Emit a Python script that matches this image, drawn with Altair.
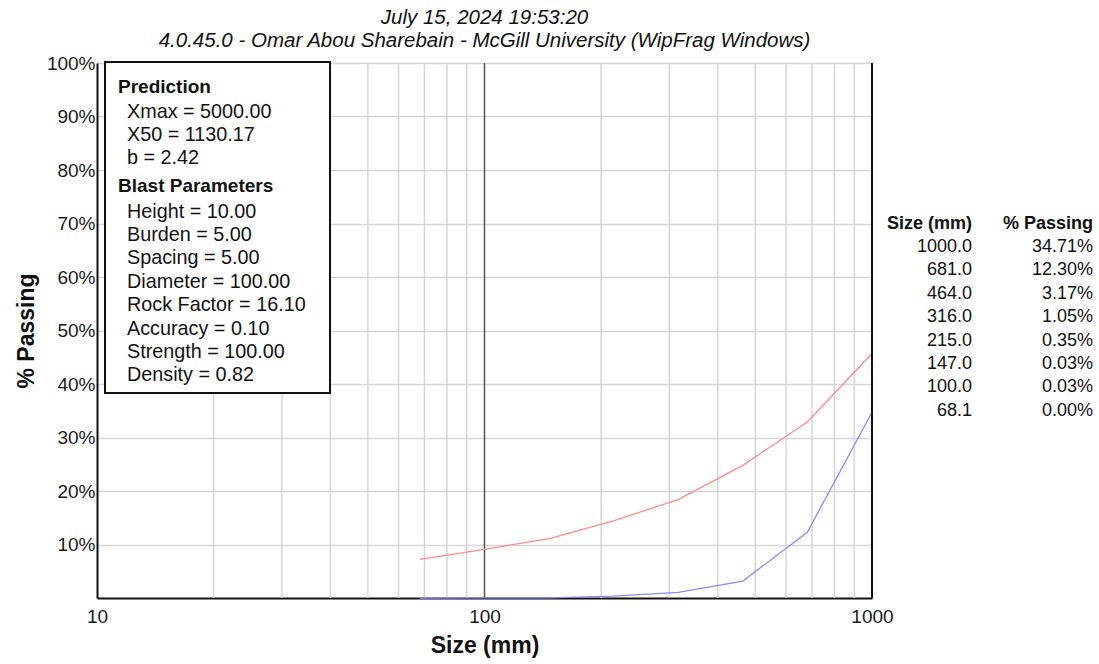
import altair as alt
import pandas as pd

# Sieve sizes and measured % passing (table at right, blue curve)
sizes = [1000.0, 681.0, 464.0, 316.0, 215.0, 147.0, 100.0, 68.1]
passing = [34.71, 12.30, 3.17, 1.05, 0.35, 0.03, 0.03, 0.00]
# Predicted % passing at the same sizes (red curve)
predicted = [45.7, 32.9, 24.8, 18.4, 14.4, 11.1, 9.1, 7.2]

title_lines = [
    "July 15, 2024 19:53:20",
    "4.0.45.0  -  Omar Abou Sharebain - McGill University (WipFrag Windows)",
]
prediction_lines = ["Xmax = 5000.00", "X50 = 1130.17", "b = 2.42"]
blast_lines = [
    "Height = 10.00",
    "Burden = 5.00",
    "Spacing = 5.00",
    "Diameter = 100.00",
    "Rock Factor = 16.10",
    "Accuracy = 0.10",
    "Strength = 100.00",
    "Density = 0.82",
]
x_ticks = [10, 100, 1000]
y_ticks = [10, 20, 30, 40, 50, 60, 70, 80, 90, 100]
minor_grid = [20, 30, 40, 50, 60, 70, 80, 90, 200, 300, 400, 500, 600, 700, 800, 900]

FONT = "Liberation Sans"
W, H = 775, 535
PAD = {"left": 97, "top": 63, "right": 227, "bottom": 66}

x_scale = alt.Scale(type="log", domain=[10, 1000], nice=False)
y_scale = alt.Scale(domain=[0, 100], nice=False)

curves = pd.DataFrame(
    {
        "size": sizes + sizes,
        "pct": predicted + passing,
        "series": ["Predicted"] * len(sizes) + ["Measured"] * len(sizes),
    }
)

one = pd.DataFrame({"n": [0]})

# light vertical grid at the minor log positions
grid = (
    alt.Chart(pd.DataFrame({"g": minor_grid}))
    .mark_rule(color="#d6d6d6", strokeWidth=1.5)
    .encode(x=alt.X("g:Q", scale=x_scale), y=alt.value(0), y2=alt.value(H))
)
decade = (
    alt.Chart(pd.DataFrame({"g": [100]}))
    .mark_rule(color="#555555", strokeWidth=1.5)
    .encode(x=alt.X("g:Q", scale=x_scale), y=alt.value(0), y2=alt.value(H))
)
right_edge = (
    alt.Chart(pd.DataFrame({"g": [1000]}))
    .mark_rule(color="#111111", strokeWidth=2)
    .encode(x=alt.X("g:Q", scale=x_scale), y=alt.value(0), y2=alt.value(H))
)

lines = (
    alt.Chart(curves)
    .mark_line(strokeWidth=1.3, clip=False)
    .encode(
        x=alt.X(
            "size:Q",
            scale=x_scale,
            axis=alt.Axis(
                values=x_ticks,
                labelExpr="format(datum.value, 'd')",
                grid=False,
                ticks=False,
                domainColor="#111111",
                domainWidth=2,
                labelFont=FONT,
                labelFontSize=19,
                labelColor="#1a1a1a",
                labelPadding=9,
                labelFlush=False,
                labelOverlap=False,
                title="Size (mm)",
                titleFont=FONT,
                titleFontSize=23,
                titleFontWeight="bold",
                titleColor="#111111",
                titlePadding=8,
                zindex=0,
            ),
        ),
        y=alt.Y(
            "pct:Q",
            scale=y_scale,
            axis=alt.Axis(
                values=y_ticks,
                labelExpr="datum.value + '%'",
                grid=True,
                gridColor="#d6d6d6",
                gridWidth=1.5,
                ticks=False,
                domainColor="#111111",
                domainWidth=2,
                labelFont=FONT,
                labelFontSize=19,
                labelColor="#1a1a1a",
                labelPadding=2,
                labelOverlap=False,
                title="% Passing",
                titleFont=FONT,
                titleFontSize=23,
                titleFontWeight="bold",
                titleColor="#111111",
                titlePadding=8,
            ),
        ),
        color=alt.Color(
            "series:N",
            scale=alt.Scale(domain=["Predicted", "Measured"], range=["#ff8a8a", "#8a8aff"]),
            legend=None,
        ),
        detail="series:N",
    )
)

# parameter box
box = (
    alt.Chart(one)
    .mark_rect(fill="white", stroke="#111111", strokeWidth=2)
    .encode(x=alt.value(8), x2=alt.value(233), y=alt.value(-1), y2=alt.value(330))
)

STEP = 23.4


def heading(text, x, y):
    return (
        alt.Chart(one)
        .mark_text(text=text, align="left", baseline="middle", font=FONT, fontSize=19,
                   fontWeight="bold", color="#111111")
        .encode(x=alt.value(x), y=alt.value(y))
    )


def block(texts, x, y, align="left", weight="normal", style="normal", size=19.8):
    return (
        alt.Chart(one)
        .mark_text(text=texts, align=align, baseline="top", font=FONT, fontSize=size,
                   fontWeight=weight, fontStyle=style, lineHeight=STEP, color="#111111")
        .encode(x=alt.value(x), y=alt.value(y))
    )


box_text = [
    heading("Prediction", 21, 24),
    block(prediction_lines, 30, 47 - 8.5),
    heading("Blast Parameters", 21, 123),
    block(blast_lines, 30, 147 - 8.5),
]

size_col = [f"{s:.1f}" for s in sizes]
pass_col = [f"{p:.2f}%" for p in passing]
table = [
    alt.Chart(one)
    .mark_text(text="Size (mm)", align="right", baseline="middle", font=FONT, fontSize=18,
               fontWeight="bold", color="#111111")
    .encode(x=alt.value(875), y=alt.value(161)),
    alt.Chart(one)
    .mark_text(text="% Passing", align="right", baseline="middle", font=FONT, fontSize=18,
               fontWeight="bold", color="#111111")
    .encode(x=alt.value(996), y=alt.value(161)),
    block(size_col, 875, 183 - 8, align="right", size=18),
    block(pass_col, 996, 183 - 8, align="right", size=18),
]

title = (
    alt.Chart(one)
    .mark_text(text=title_lines, align="center", baseline="top", font=FONT, fontSize=20.5,
               fontStyle="italic", lineHeight=23, color="#111111")
    .encode(x=alt.value(W / 2), y=alt.value(-46 - 9))
)

chart = (
    alt.layer(grid, decade, lines, right_edge, box, *box_text, *table, title)
    .properties(width=W, height=H, padding=PAD, autosize=alt.AutoSizeParams(type="none"))
    .configure_view(stroke=None)
    .configure(background="white")
)

chart.save("out.html", embed_options={"renderer": "svg", "actions": False})
